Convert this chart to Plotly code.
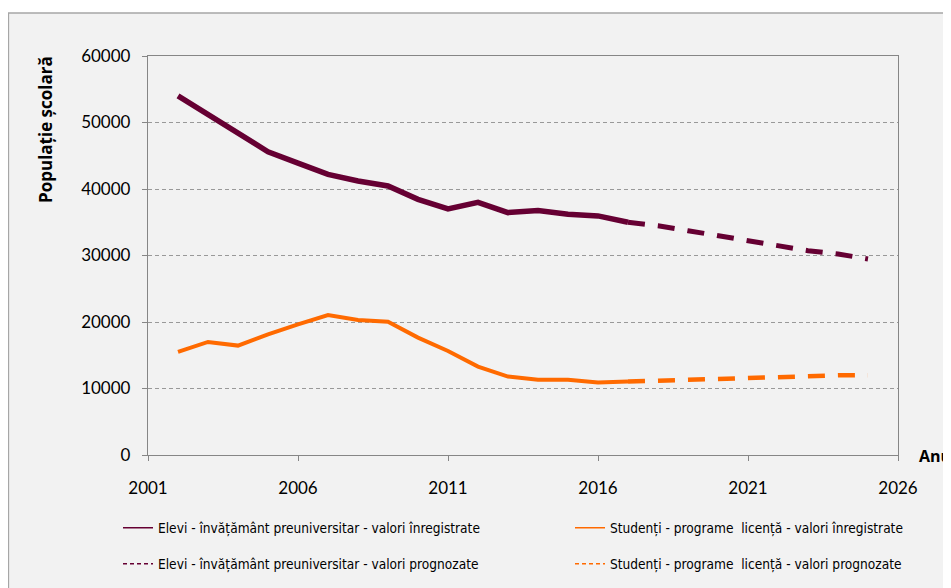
import plotly.graph_objects as go

# ---- data ----
years_rec = list(range(2002, 2018))
years_fc = list(range(2017, 2026))

elevi_rec = [54000, 51200, 48600, 45600, 43900, 42200, 41200, 40450,
             38450, 37000, 38000, 36450, 36750, 36200, 35950, 35000]
elevi_fc = [35000, 34480, 33730, 32980, 32230, 31470, 30720, 30230, 29470]

stud_rec = [15500, 17000, 16450, 18150, 19650, 21050, 20300, 20050,
            17650, 15650, 13300, 11800, 11300, 11300, 10900, 11050]
stud_fc = [11050, 11230, 11380, 11430, 11580, 11630, 11830, 11980, 11980]

names = [
    "Elevi - învățământ preuniversitar - valori înregistrate",
    "Studenți - programe  licență - valori înregistrate",
    "Elevi - învățământ preuniversitar - valori prognozate",
    "Studenți - programe  licență - valori prognozate",
]
y_title = "Populație școlară"
x_title = "Anul"

C_ELEVI = "#660033"
C_STUD = "#ff6a00"

W, H = 951, 588
OFF = 8  # page body margin
L, R, T, B = 148 - OFF, W - (898 - OFF), 56 - OFF, H - (455 - OFF)
PW, PH = W - L - R, H - T - B

def px_x(p):
    return (p - OFF - L) / PW

def px_y(p):
    return (H - B - (p - OFF)) / PH

fig = go.Figure()

fig.add_trace(go.Scatter(x=years_rec, y=elevi_rec, mode="lines", showlegend=False,
                         line=dict(color=C_ELEVI, width=5.5)))
fig.add_trace(go.Scatter(x=years_rec, y=stud_rec, mode="lines", showlegend=False,
                         line=dict(color=C_STUD, width=4)))
fig.add_trace(go.Scatter(x=years_fc, y=elevi_fc, mode="lines", showlegend=False,
                         line=dict(color=C_ELEVI, width=5, dash="17px,13px")))
fig.add_trace(go.Scatter(x=years_fc, y=stud_fc, mode="lines", showlegend=False,
                         line=dict(color=C_STUD, width=4.5, dash="17px,13px")))

leg_font = dict(family="Liberation Sans Narrow, DejaVu Sans Condensed, sans-serif",
                size=13.6, color="#000000")
leg_specs = [
    ("legend", names[0], C_ELEVI, "solid"),
    ("legend2", names[1], C_STUD, "solid"),
    ("legend3", names[2], C_ELEVI, "4px,3px"),
    ("legend4", names[3], C_STUD, "4px,3px"),
]
for lg, nm, col, ds in leg_specs:
    fig.add_trace(go.Scatter(x=[None], y=[None], mode="lines", name=nm,
                             line=dict(color=col, width=1.5, dash=ds), legend=lg))

legend_pos = {"legend": (158, 528), "legend2": (610, 528),
              "legend3": (158, 564), "legend4": (610, 564)}
leg_layout = {}
for lg, (tx, ty) in legend_pos.items():
    leg_layout[lg] = dict(orientation="v", x=px_x(tx - 40), xanchor="left",
                          y=px_y(ty), yanchor="middle", font=leg_font,
                          bgcolor="rgba(0,0,0,0)", itemwidth=30, borderwidth=0)

tick_font = dict(family="Lato, Open Sans, sans-serif", size=17, color="#000000")
axis_col = "#868686"

fig.update_layout(
    width=W, height=H,
    margin=dict(l=L, r=R, t=T, b=B, autoexpand=False),
    paper_bgcolor="#ffffff",
    plot_bgcolor="#ffffff",
    xaxis=dict(range=[2001, 2026], tickmode="linear", tick0=2001, dtick=5,
               showgrid=False, zeroline=False,
               showline=True, linecolor=axis_col, linewidth=1.3, mirror=True,
               ticks="outside", ticklen=5, tickcolor=axis_col,
               tickfont=tick_font, ticklabelstandoff=12),
    yaxis=dict(range=[0, 60000], tickmode="linear", tick0=0, dtick=10000,
               tickformat="d",
               showgrid=True, gridcolor="#999999", griddash="4px,3px", gridwidth=1,
               zeroline=False,
               showline=True, linecolor=axis_col, linewidth=1.3, mirror=True,
               ticks="outside", ticklen=5, tickcolor=axis_col,
               tickfont=tick_font, ticklabelstandoff=8),
    shapes=[dict(type="rect", xref="paper", yref="paper", layer="below",
                 x0=px_x(8.5), x1=px_x(990), y0=px_y(620), y1=px_y(13),
                 fillcolor="#f2f2f2", line=dict(color="#a6a6a6", width=1.3))],
    annotations=[
        dict(text=x_title, xref="paper", yref="paper",
             x=px_x(917), y=px_y(456), xanchor="left", yanchor="middle",
             showarrow=False,
             font=dict(family="Open Sans, sans-serif", size=16,
                       color="#000000", weight="bold")),
        dict(text=y_title, xref="paper", yref="paper", textangle=-90,
             x=px_x(45), y=px_y(130), xanchor="center", yanchor="middle",
             showarrow=False,
             font=dict(family="Open Sans, sans-serif", size=17,
                       color="#000000", weight="bold")),
    ],
    **leg_layout,
)

fig.write_html("out.html")
